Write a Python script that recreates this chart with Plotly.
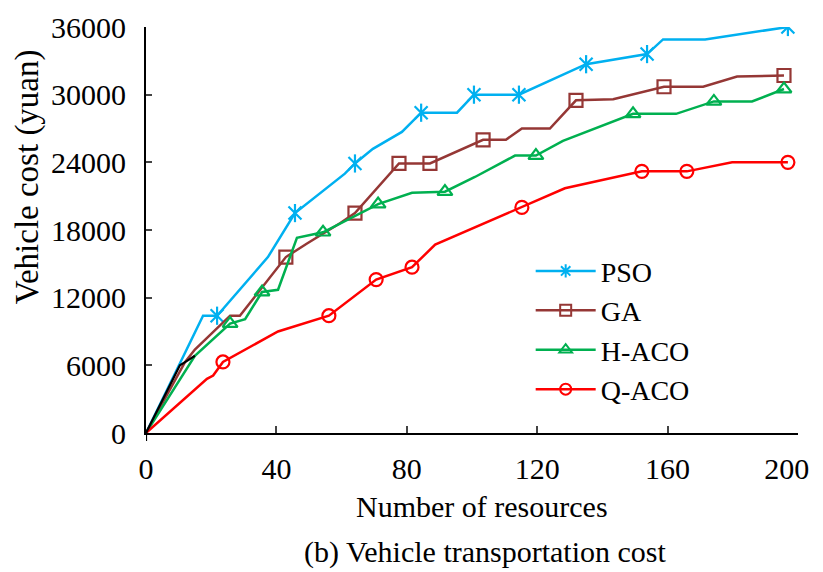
import plotly.graph_objects as go

# ---------------- data ----------------
pso_x = [0, 17.5, 21.8, 37.4, 45.7, 61, 64.1, 69.6, 78.5, 84.4, 95.4, 100.6, 114.4, 135, 153.7, 158.6, 171.5, 196.9]
pso_y = [0, 10400, 10400, 15600, 19500, 23000, 23900, 25200, 26700, 28400, 28400, 30000, 30000, 32700, 33600, 34900, 34900, 36000]
pso_marks = [2, 4, 6, 9, 11, 12, 13, 14, 17]

ga_x = [0, 12, 15, 25.8, 28.8, 42.9, 49.4, 59.5, 64.1, 74.8, 77.6, 87.1, 103.4, 110.4, 115.3, 123.9, 131.9, 143.3, 158.9, 170.9, 181.3, 195.7]
ga_y = [0, 6300, 7400, 10400, 10400, 15600, 16800, 18600, 19500, 23000, 23900, 23900, 26000, 26000, 27000, 27000, 29500, 29600, 30700, 30700, 31600, 31700]
ga_marks = [5, 8, 10, 11, 12, 16, 18, 21]

haco_x = [0, 15, 25.8, 30.4, 35.6, 40.5, 46.3, 54.3, 71.2, 81.6, 91.7, 100.9, 113.2, 119.6, 127.9, 149.4, 162.6, 174.2, 185.9, 195.7]
haco_y = [0, 6850, 9700, 10100, 12500, 12700, 17300, 17800, 20300, 21300, 21400, 22700, 24600, 24600, 25900, 28300, 28300, 29400, 29400, 30500]
haco_marks = [2, 4, 7, 8, 10, 13, 15, 17, 19]

qaco_x = [0, 18.7, 20.6, 23.6, 40.5, 56.1, 70.6, 81.6, 88.7, 115.3, 128.5, 152.1, 165.9, 179.8, 196.9]
qaco_y = [0, 4800, 5100, 6300, 9000, 10400, 13600, 14700, 16700, 20000, 21700, 23200, 23200, 24000, 24000]
qaco_marks = [3, 5, 6, 7, 9, 11, 12, 14]

# short black segment near the origin
blk_x = [0, 10.4, 12.6, 15]
blk_y = [0, 6000, 6400, 6850]

x_ticks = [0, 40, 80, 120, 160, 200]
x_tick_labels = ["0", "40", "80", "120", "160", "200\u00a0\u00a0\u00a0"]
y_ticks = [0, 6000, 12000, 18000, 24000, 30000, 36000]
y_tick_labels = ["0", "6000", "12000", "18000", "24000", "30000", "36000"]

series = [
    ("PSO", pso_x, pso_y, pso_marks, "#00B0F0", ["x-thin-open", "line-ns-open"], "asterisk-open"),
    ("GA", ga_x, ga_y, ga_marks, "#953735", ["square-open"], "square-open"),
    ("H-ACO", haco_x, haco_y, haco_marks, "#00B050", ["triangle-up-open"], "triangle-up-open"),
    ("Q-ACO", qaco_x, qaco_y, qaco_marks, "#FF0000", ["circle-open"], "circle-open"),
]

FONT = "Liberation Serif"
fig = go.Figure()

for name, xs, ys, marks, col, syms, legsym in series:
    fig.add_trace(go.Scatter(x=xs, y=ys, mode="lines", line=dict(color=col, width=2.5),
                             showlegend=False, hoverinfo="skip"))
    mx = [xs[i] for i in marks]
    my = [ys[i] for i in marks]
    for s in syms:
        fig.add_trace(go.Scatter(x=mx, y=my, mode="markers", showlegend=False,
                                 marker=dict(symbol=s, size=13, color=col, line=dict(color=col, width=2.2))))

fig.add_trace(go.Scatter(x=blk_x, y=blk_y, mode="lines", line=dict(color="black", width=2.2),
                         showlegend=False, hoverinfo="skip"))

for name, xs, ys, marks, col, syms, legsym in series:
    fig.add_trace(go.Scatter(x=[None], y=[None], mode="lines+markers", name=name,
                             line=dict(color=col, width=2.5),
                             marker=dict(symbol=legsym, size=11, color=col, line=dict(color=col, width=2))))

fig.update_layout(
    width=823, height=572,
    margin=dict(l=138, r=33, t=19, b=147, autoexpand=False),
    paper_bgcolor="white", plot_bgcolor="white",
    font=dict(family=FONT, size=30, color="black"),
    showlegend=True,
    legend=dict(x=0.59, y=0.46, xanchor="left", yanchor="top", bgcolor="rgba(0,0,0,0)",
                font=dict(family=FONT, size=28), tracegroupgap=0, itemwidth=60),
    xaxis=dict(range=[0, 200], tickvals=x_ticks, ticktext=x_tick_labels, ticks="inside",
               ticklen=7, tickwidth=2, ticklabeloverflow="allow",
               showline=True, linewidth=2.2, linecolor="black", showgrid=False, zeroline=False,
               automargin=False,
               tickfont=dict(family=FONT, size=30), ticklabelstandoff=8),
    yaxis=dict(range=[0, 36000], tickvals=y_ticks, ticktext=y_tick_labels, ticks="inside",
               ticklen=6, tickwidth=2, automargin=False,
               showline=True, linewidth=2.2, linecolor="black", showgrid=False, zeroline=False,
               tickfont=dict(family=FONT, size=30), ticklabelstandoff=12),
    annotations=[
        dict(text="Vehicle cost (yuan)", textangle=-90, xref="paper", yref="paper",
             x=-0.1825, y=0.63, xanchor="center", yanchor="middle", showarrow=False,
             font=dict(family=FONT, size=33)),
        dict(text="Number of resources", xref="paper", yref="paper",
             x=0.515, y=-0.18, xanchor="center", yanchor="middle", showarrow=False,
             font=dict(family=FONT, size=30)),
        dict(text="(b) Vehicle transportation cost", xref="paper", yref="paper",
             x=0.52, y=-0.292, xanchor="center", yanchor="middle", showarrow=False,
             font=dict(family=FONT, size=30)),
    ],
    shapes=[dict(type="line", xref="x", yref="paper", x0=0, x1=0, y0=-0.02, y1=0,
                 line=dict(color="black", width=2.2))],
)

fig.write_html("out.html")
